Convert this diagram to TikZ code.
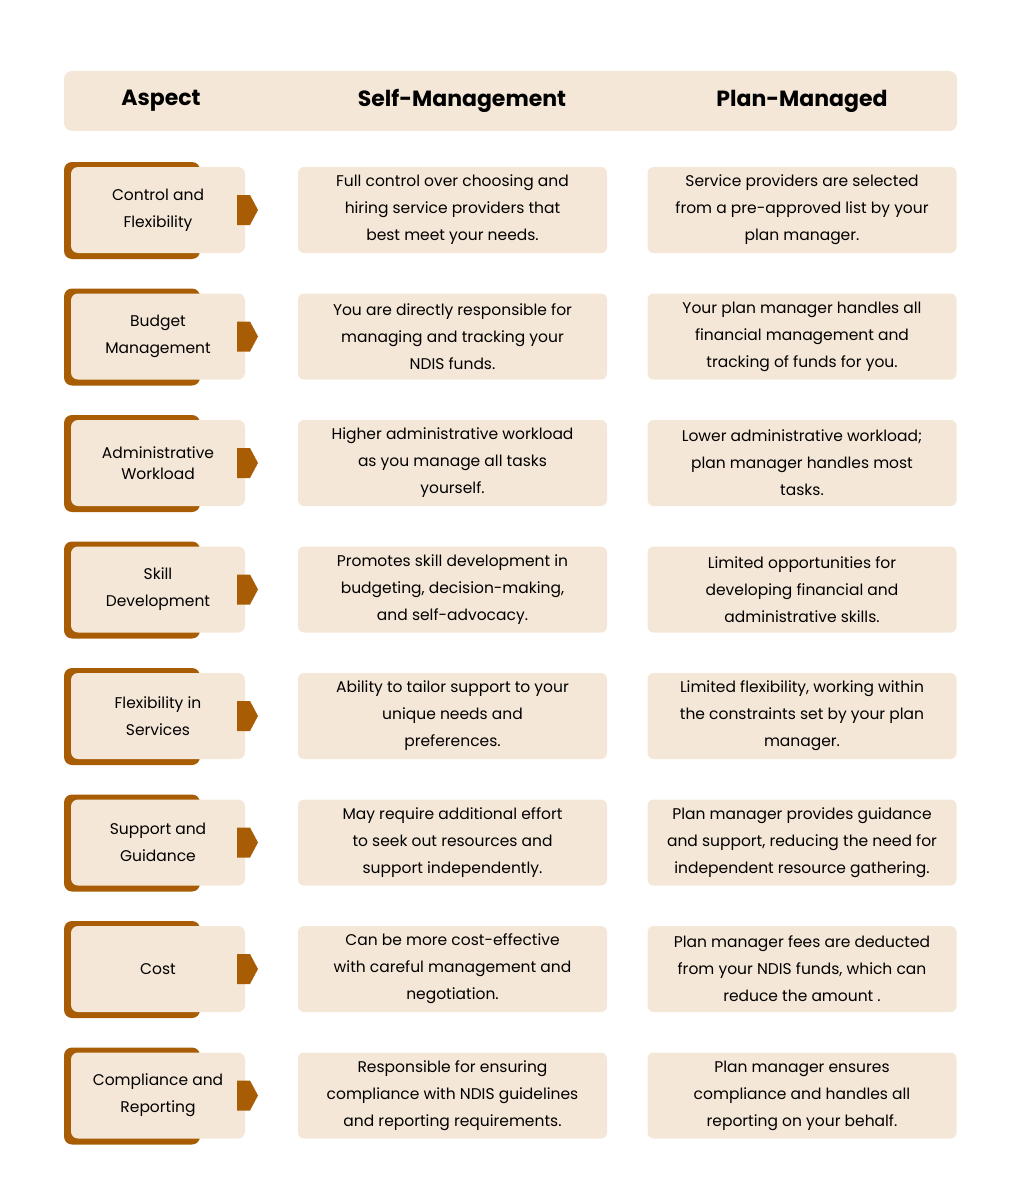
\documentclass[tikz,border=0pt]{standalone}
\usepackage{fontspec}
\setmainfont{Poppins}
\definecolor{cream}{RGB}{245,231,215}
\definecolor{rust}{RGB}{168,92,4}
\tikzset{every picture/.style={line width=0.75pt}}
\tikzset{
  cellbox/.style={fill=cream, rounded corners=6pt, minimum width=309pt, minimum height=86pt, align=center, font=\fontsize{15.5}{27}\selectfont, inner sep=0pt},
  aspectbox/.style={fill=cream, rounded corners=7pt, minimum width=174pt, minimum height=86pt, align=center, font=\fontsize{15.5}{27}\selectfont, inner sep=0pt},
  headtext/.style={font=\fontsize{22}{26}\selectfont\bfseries}
}
\begin{document}
\begin{tikzpicture}[x=1pt,y=-1pt]
\useasboundingbox (0,0) rectangle (1024,1204);

% header band
\fill[cream, rounded corners=8pt] (64,71) rectangle (957,131);
\node[headtext] (hAspect) at (161,101) {Aspect};
\node[headtext] (hSelf) at (462,101) {Self-Management};
\node[headtext] (hPlan) at (802,101) {Plan-Managed};

% rows
\foreach \i/\asp/\sm/\pm in {
 0/{Control and\\Flexibility}/{Full control over choosing and\\hiring service providers that\\best meet your needs.}/{Service providers are selected\\from a pre-approved list by your\\plan manager.},
 1/{Budget\\Management}/{You are directly responsible for\\managing and tracking your\\NDIS funds.}/{Your plan manager handles all\\financial management and\\tracking of funds for you.},
 2/{Administrative\\[-6pt]Workload}/{Higher administrative workload\\as you manage all tasks\\yourself.}/{Lower administrative workload;\\plan manager handles most\\tasks.},
 3/{Skill\\Development}/{Promotes skill development in\\budgeting, decision-making,\\and self-advocacy.}/{Limited opportunities for\\developing financial and\\administrative skills.},
 4/{Flexibility in\\Services}/{Ability to tailor support to your\\unique needs and\\preferences.}/{Limited flexibility, working within\\the constraints set by your plan\\manager.},
 5/{Support and\\Guidance}/{May require additional effort\\to seek out resources and\\support independently.}/{Plan manager provides guidance\\and support, reducing the need for\\independent resource gathering.},
 6/{Cost}/{Can be more cost-effective\\with careful management and\\negotiation.}/{Plan manager fees are deducted\\from your NDIS funds, which can\\reduce the amount .},
 7/{Compliance and\\Reporting}/{Responsible for ensuring\\compliance with NDIS guidelines\\and reporting requirements.}/{Plan manager ensures\\compliance and handles all\\reporting on your behalf.}}
{
  \pgfmathsetmacro{\top}{162+126.5*\i}
  % brown backing and tab
  \fill[rust, rounded corners=8pt] (64,\top) rectangle (200,\top+97);
  \node[aspectbox] (aspect\i) at (158,\top+48) {\asp};
  \fill[rust] (237,\top+33) -- (250,\top+33) -- (258,\top+48) -- (250,\top+63) -- (237,\top+63) -- cycle;
  \node[cellbox] (self\i) at (452.5,\top+48) {\sm};
  \node[cellbox] (plan\i) at (802,\top+48) {\pm};
}
\end{tikzpicture}
\end{document}
